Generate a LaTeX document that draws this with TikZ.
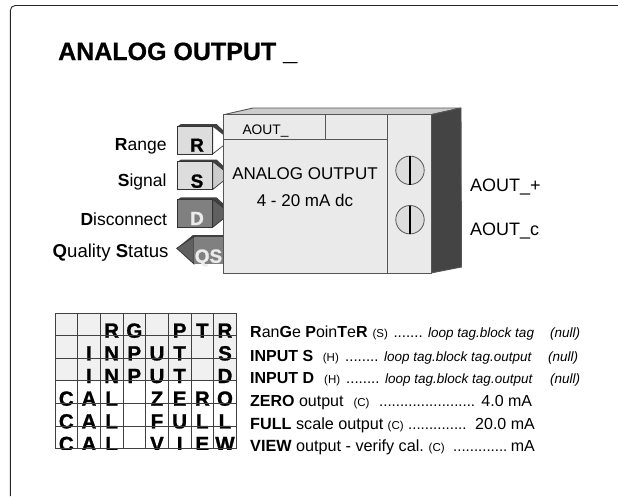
\documentclass[tikz,border=0pt]{standalone}
\usepackage{fontspec}
\setmainfont{Liberation Sans}
\newfontfamily\heavyfont[FakeBold=1.2]{Liberation Sans Bold}
\newfontfamily\titlefont[FakeBold=0.6]{Liberation Sans Bold}
\usepackage{xcolor}
\definecolor{bodyfill}{RGB}{234,234,234}
\definecolor{edgegrey}{RGB}{85,85,85}
\definecolor{topfill}{RGB}{204,204,204}
\definecolor{sidefill}{RGB}{68,68,68}
\definecolor{tabfill}{RGB}{221,221,221}
\definecolor{discfill}{RGB}{128,128,128}
\definecolor{tipdark}{RGB}{96,96,96}
\definecolor{gridfill}{RGB}{240,240,240}
\begin{document}
\begin{tikzpicture}[x=1pt, y=1pt, every node/.style={inner sep=0pt},
  lbl/.style={font=\fontsize{17.5}{19}\selectfont, anchor=base east},
  bodytext/.style={font=\fontsize{17}{19}\selectfont, anchor=base},
  termtext/.style={font=\fontsize{18}{20}\selectfont, anchor=base west},
  tabltr/.style={font=\fontsize{19}{21}\selectfont\heavyfont, anchor=base},
  gridltr/.style={font=\fontsize{20.5}{22}\selectfont\heavyfont, anchor=base},
  parm/.style={font=\fontsize{16}{18}\selectfont, anchor=base west},
  parmwide/.style={font=\fontsize{16.2}{18}\selectfont, anchor=base west},
  parmend/.style={font=\fontsize{16}{18}\selectfont, anchor=base east},
  leader/.style={font=\fontsize{15}{18}\selectfont, anchor=base west},
  code/.style={font=\fontsize{11.5}{14}\selectfont, anchor=base west},
  tagtext/.style={font=\fontsize{13.5}{15}\selectfont\itshape, anchor=base west},
  edge/.style={draw=edgegrey, line width=0.9pt, line join=round},
  gridline/.style={line width=0.8pt, black!75}]
\useasboundingbox (0,0) rectangle (618,-496);
\draw[line width=0.9pt, black!85, rounded corners=5pt] (10.3,-496) -- (10.3,-5.5) -- (618,-5.5);
\node[font=\fontsize{25}{28}\selectfont\titlefont, anchor=base west] (title) at (58,-60) {ANALOG OUTPUT \_};

% input tabs
\foreach \tabname/\ytop/\boxcol/\tipcol in {R/126/tabfill/white, S/161.5/tabfill/topfill, D/199.3/discfill/tipdark}{
  \fill[black!75] (178,-\ytop) -- (181,-\ytop+2) -- (216.5,-\ytop+2) -- (224,-\ytop-5) -- (224,-\ytop-9) -- (212.7,-\ytop) -- cycle;
  \filldraw[draw=black!80, line width=0.7pt, fill=\tipcol] (212.7,-\ytop) -- (224,-\ytop-9) -- (224,-\ytop-19) -- (212.7,-\ytop-28) -- cycle;
  \filldraw[draw=black!80, line width=0.8pt, fill=\boxcol] (177.7,-\ytop) rectangle (212.7,-\ytop-28);
}
\node[tabltr] (tabR) at (197,-151.7) {R};
\node[tabltr] (tabS) at (197,-187.7) {S};
\node[tabltr, white!92!black] (tabD) at (197,-225) {D};
% output tab
\fill[black!75] (176.7,-248.3) -- (193,-235) -- (224,-235) -- (224,-237) -- (194,-237) -- cycle;
\filldraw[draw=black!80, line width=0.7pt, fill=tipdark] (176.7,-248.3) -- (194,-236.7) -- (194,-264) -- cycle;
\fill[discfill] (194,-236.7) rectangle (224,-264);
\node[tabltr, white!92!black] (tabQS) at (208.5,-262.7) {QS};

\node[lbl] (lblR) at (166.7,-150) {\textbf{R}ange};
\node[lbl] (lblS) at (166.7,-186) {\textbf{S}ignal};
\node[lbl] (lblD) at (167.3,-225) {\textbf{D}isconnect};
\node[lbl, font=\fontsize{18.6}{20}\selectfont] (lblQS) at (168.7,-257.7) {\textbf{Q}uality \textbf{S}tatus};

% block
\filldraw[edge, fill=topfill] (223.5,-114.7) -- (253,-108) -- (461,-108) -- (431,-114.7) -- cycle;
\filldraw[edge, fill=sidefill] (431,-114.7) -- (461,-108) -- (461.5,-267) -- (431,-273) -- cycle;
\filldraw[edge, fill=bodyfill] (223.5,-114.7) rectangle (431,-273);
\draw[edge] (387.7,-114.7) -- (387.7,-273);
\draw[edge] (223.5,-139) -- (387.7,-139);
\draw[edge] (325.7,-114.7) -- (325.7,-139);
\node[font=\fontsize{13.8}{15}\selectfont, anchor=base west] (blockid) at (242.3,-134.3) {AOUT\_};
\node[bodytext] (blockname) at (305,-179) {ANALOG OUTPUT};
\node[bodytext] (blockrange) at (305,-206.7) {4 - 20 mA dc};
\foreach \yc/\lw in {170.3/1.5pt, 219.7/2.2pt}{
  \filldraw[draw=edgegrey, line width=0.8pt, fill=tabfill] (410,-\yc) circle (14.2);
  \draw[line width=\lw] (410,-\yc+14.2) -- (410,-\yc-14.2);
}
\node[termtext] (termplus) at (470,-191) {AOUT\_+};
\node[termtext] (termc) at (470,-235) {AOUT\_c};

% key grid
\fill[gridfill] (55,-313) rectangle (236,-381);
\foreach \col/\ltr in {2/R,3/G,5/P,6/T,7/R}
  \node[gridltr] (ga\col) at (66.3+22.67*\col,-337.7) {\ltr};
\foreach \col/\ltr in {1/I,2/N,3/P,4/U,5/T,7/S}
  \node[gridltr] (gb\col) at (66.3+22.67*\col,-360.4) {\ltr};
\foreach \col/\ltr in {1/I,2/N,3/P,4/U,5/T,7/D}
  \node[gridltr] (gc\col) at (66.3+22.67*\col,-383) {\ltr};
\foreach \col/\ltr in {0/C,1/A,2/L,4/Z,5/E,6/R,7/O}
  \node[gridltr] (gd\col) at (66.3+22.67*\col,-405.7) {\ltr};
\foreach \col/\ltr in {0/C,1/A,2/L,4/F,5/U,6/L,7/L}
  \node[gridltr] (ge\col) at (66.3+22.67*\col,-428.4) {\ltr};
\begin{scope}
\clip (50,-430) rectangle (240,-449.4);
\foreach \col/\ltr in {0/C,1/A,2/L,4/V,5/I,6/E,7/W}
  \node[gridltr] (gf\col) at (66.3+22.67*\col,-451) {\ltr};
\end{scope}
\foreach \col in {0,...,8}
  \draw[gridline] (55+22.67*\col,-313) -- (55+22.67*\col,-448.5);
\foreach \row in {0,...,6}
  \draw[gridline] (55,-313-22.58*\row) -- (236,-313-22.58*\row);

% parameters
\node[parm] (prmR) at (250,-337.7) {\textbf{R}an\textbf{G}e \textbf{P}oin\textbf{T}e\textbf{R}};
\node[code] (codeR) at (372.3,-337.7) {(S)};
\node[leader] (dotsR) at (393.3,-337.7) {.......};
\node[tagtext] (tagR) at (428,-337.7) {loop tag.block tag};
\node[tagtext] (nullR) at (550,-337.7) {(null)};
\node[parm] (prmS) at (250,-361.7) {\textbf{INPUT S}};
\node[code] (codeS) at (322.7,-361.7) {(H)};
\node[leader] (dotsS) at (345,-361.7) {........};
\node[tagtext] (tagS) at (384,-361.7) {loop tag.block tag.output};
\node[tagtext] (nullS) at (548,-361.7) {(null)};
\node[parm] (prmD) at (250,-383.3) {\textbf{INPUT D}};
\node[code] (codeD) at (324,-383.3) {(H)};
\node[leader] (dotsD) at (346,-383.3) {........};
\node[tagtext] (tagD) at (385,-383.3) {loop tag.block tag.output};
\node[tagtext] (nullD) at (550,-383.3) {(null)};
\node[parm] (prmZ) at (250,-406.7) {\textbf{ZERO} output};
\node[code] (codeZ) at (353.3,-406.7) {(C)};
\node[leader] (dotsZ) at (379,-406.7) {.......................};
\node[parmend] (valZ) at (532.3,-406.7) {4.0 mA};
\node[parmwide] (prmF) at (250,-429.3) {\textbf{FULL} scale output};
\node[code] (codeF) at (387.5,-429.3) {(C)};
\node[leader] (dotsF) at (408,-429.3) {..............};
\node[parmend] (valF) at (535,-429.3) {20.0 mA};
\node[parmwide] (prmV) at (250,-451) {\textbf{VIEW} output - verify cal.};
\node[code] (codeV) at (428.5,-451) {(C)};
\node[leader] (dotsV) at (453,-451) {.............};
\node[parmend] (valV) at (535,-451) {mA};
\end{tikzpicture}
\end{document}
